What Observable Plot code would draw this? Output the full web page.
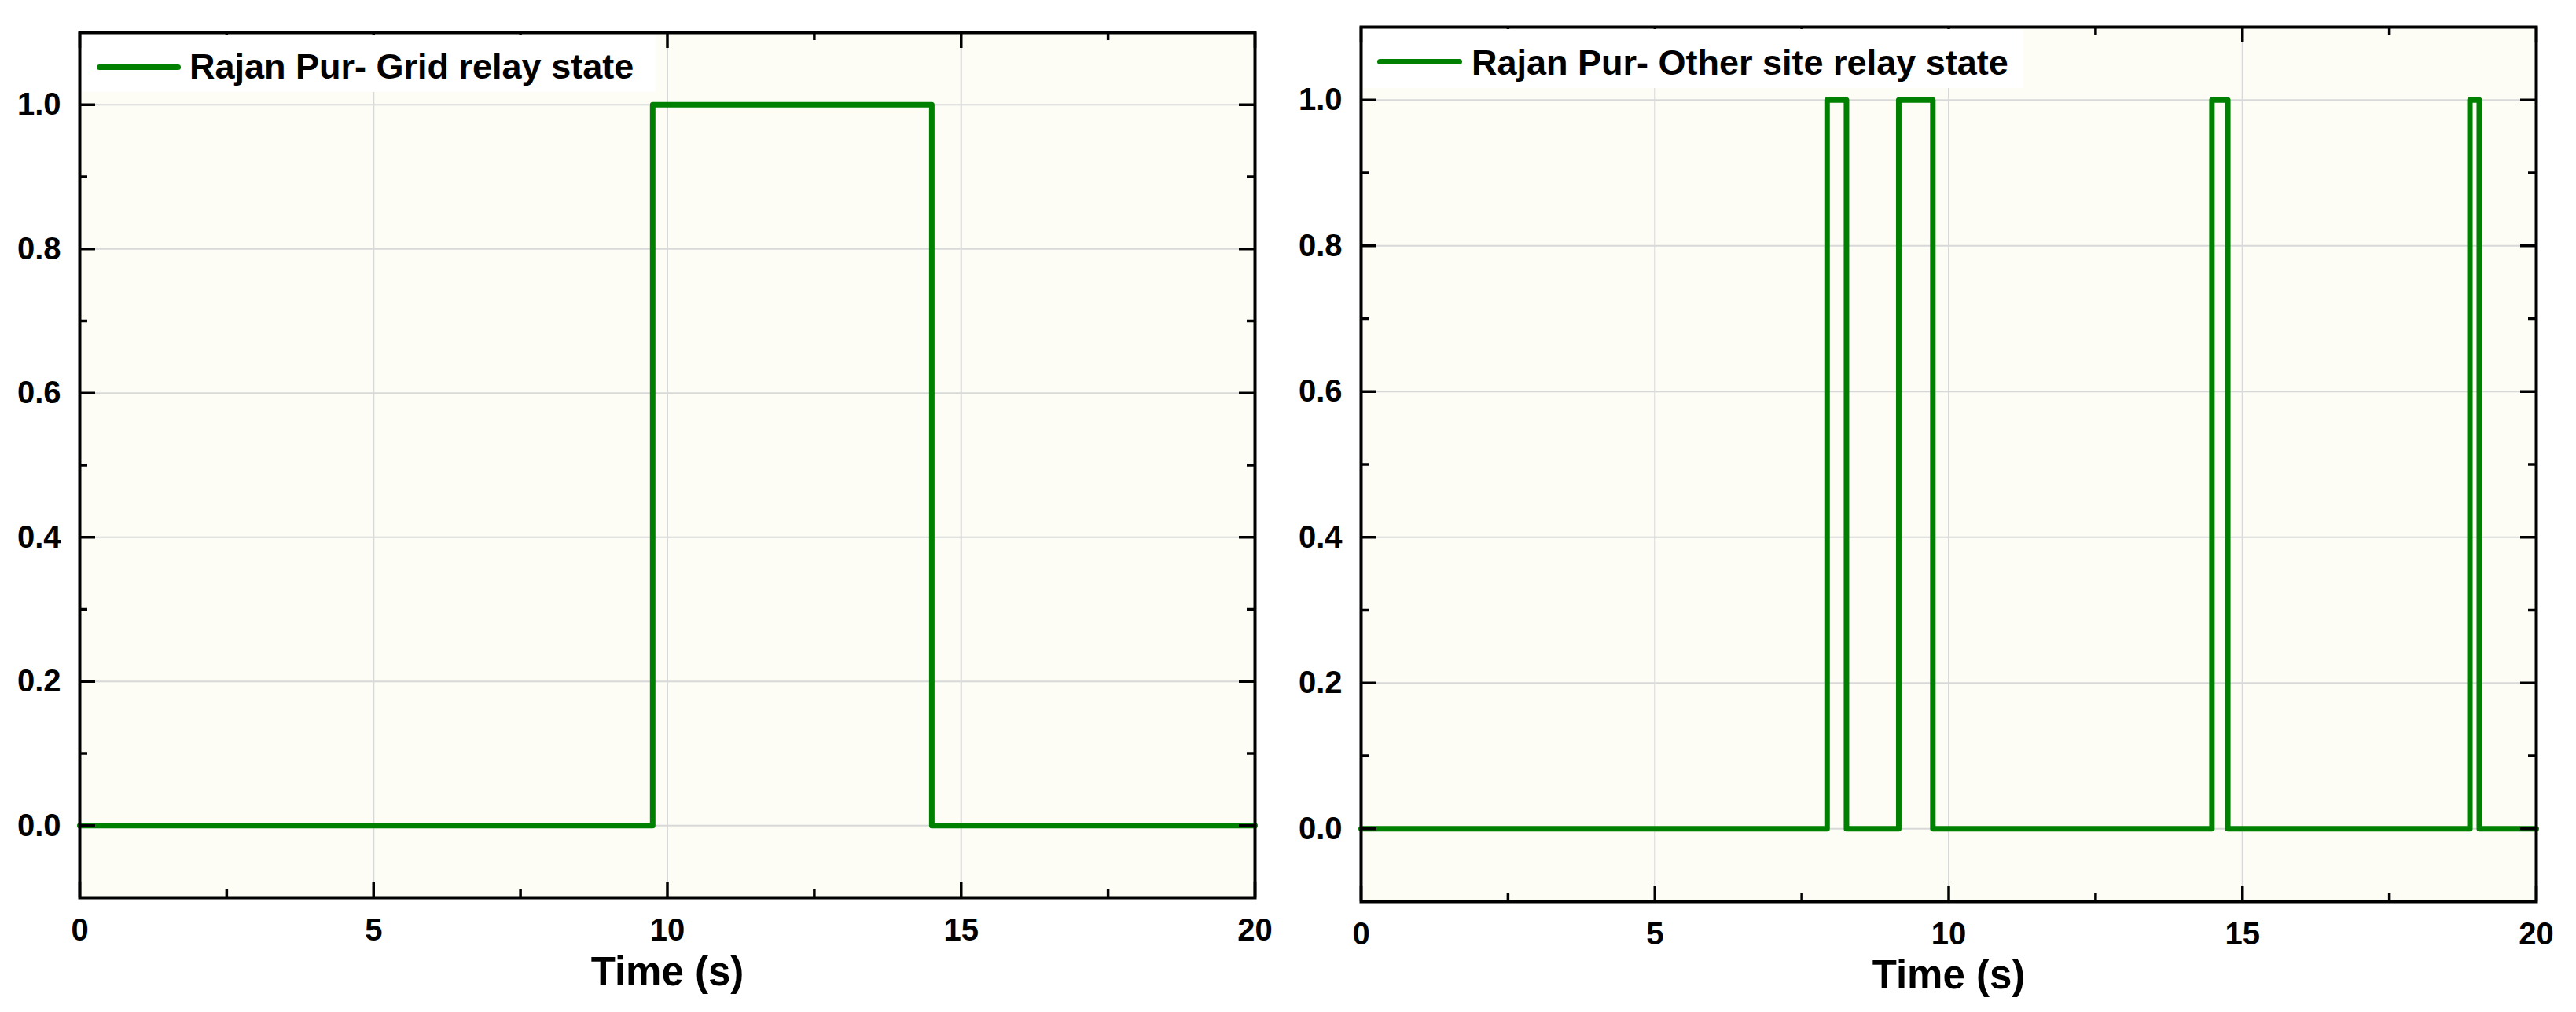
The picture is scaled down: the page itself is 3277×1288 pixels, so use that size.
<!DOCTYPE html>
<html><head><meta charset="utf-8">
<script src="https://cdn.jsdelivr.net/npm/d3@7"></script>
<script src="https://cdn.jsdelivr.net/npm/@observablehq/plot@0.6"></script>
<style>
body{margin:0;background:#fff;width:3277px;height:1288px;position:relative;overflow:hidden;font-family:"Liberation Sans",Arial,sans-serif;}
.panel{position:absolute;top:0;}
.panel svg{max-width:none;overflow:visible;}
.lbox{position:absolute;background:#ffffff;}
.swatch{position:absolute;height:7px;background:#008000;border-radius:3.5px;}
.ltext{position:absolute;font-weight:bold;font-size:45px;line-height:45px;color:#000;white-space:nowrap;}
</style></head><body>
<div id="left" class="panel" style="left:0;width:1600px"></div>
<div id="right" class="panel" style="left:1600px;width:1677px"></div>
<div class="lbox" style="left:104px;top:44px;width:730px;height:73px"></div>
<div class="swatch" style="left:123px;top:82px;width:107px"></div>
<div class="ltext" id="leg1" style="left:241px;top:62px"></div>
<div class="lbox" style="left:1734px;top:37px;width:840px;height:75px"></div>
<div class="swatch" style="left:1752px;top:75px;width:108px"></div>
<div class="ltext" id="leg2" style="left:1872px;top:57px"></div>
<script>
// Data
const gridTime  = [0, 9.75, 14.5, 20];
const gridState = [0, 1, 0, 0];
const otherTime  = [0, 7.93, 8.26, 9.15, 9.73, 14.48, 14.75, 18.87, 19.03, 20];
const otherState = [0, 1, 0, 1, 0, 1, 0, 1, 0, 0];
const seriesNames = ["Rajan Pur- Grid relay state", "Rajan Pur- Other site relay state"];
const xLabel = "Time (s)";
const xMajor = [0, 5, 10, 15, 20];
const xMinor = [2.5, 7.5, 12.5, 17.5];
const xGrid = [5, 10, 15];
const yMajor = [0, 0.2, 0.4, 0.6, 0.8, 1.0];
const yMinor = [0.1, 0.3, 0.5, 0.7, 0.9];

function panel({time, state, width, marginLeft, marginRight, marginTop, marginBottom, labelDy}) {
  const height = 1288;
  const innerH = height - marginTop - marginBottom;
  const innerW = width - marginLeft - marginRight;
  const data = time.map((t, i) => ({t, s: state[i]}));
  const tk = {stroke: "black", strokeWidth: 3.5};
  return Plot.plot({
    width, height, marginLeft, marginRight, marginTop, marginBottom,
    x: {domain: [0, 20]},
    y: {domain: [-0.1, 1.1]},
    style: {fontFamily: "Liberation Sans, Arial, sans-serif", background: "transparent", maxWidth: "none", overflow: "visible"},
    marks: [
      Plot.frame({fill: "#FDFDF5"}),
      Plot.gridX(xGrid, {stroke: "#d8d8d8", strokeOpacity: 1, strokeWidth: 2}),
      Plot.gridY(yMajor, {stroke: "#d8d8d8", strokeOpacity: 1, strokeWidth: 2}),
      Plot.line(data, {x: "t", y: "s", curve: "step-after", stroke: "#008000", strokeWidth: 7, strokeLinejoin: "round"}),
      Plot.ruleX(xMajor, {x: d => d, insetTop: innerH - 20, ...tk}),
      Plot.ruleX(xMajor, {x: d => d, insetBottom: innerH - 20, ...tk}),
      Plot.ruleX(xMinor, {x: d => d, insetTop: innerH - 10, ...tk}),
      Plot.ruleX(xMinor, {x: d => d, insetBottom: innerH - 10, ...tk}),
      Plot.ruleY(yMajor, {y: d => d, insetRight: innerW - 20, ...tk}),
      Plot.ruleY(yMajor, {y: d => d, insetLeft: innerW - 20, ...tk}),
      Plot.ruleY(yMinor, {y: d => d, insetRight: innerW - 10, ...tk}),
      Plot.ruleY(yMinor, {y: d => d, insetLeft: innerW - 10, ...tk}),
      Plot.frame({stroke: "black", strokeWidth: 4}),
      Plot.axisX(xMajor, {tickSize: 0, tickPadding: 26, tickFormat: d => String(d), fontSize: 40, fontWeight: "bold", label: null, fill: "black"}),
      Plot.axisY(yMajor, {tickSize: 0, tickPadding: 24, tickFormat: d3.format(".1f"), fontSize: 40, fontWeight: "bold", label: null, fill: "black"}),
      Plot.text([xLabel], {text: d => d, frameAnchor: "bottom", dy: labelDy, lineAnchor: "top", fontSize: 51, fontWeight: "bold", fill: "black"})
    ]
  });
}

document.getElementById("left").append(panel({
  time: gridTime, state: gridState, width: 1600,
  marginLeft: 101, marginRight: 4, marginTop: 41, marginBottom: 146, labelDy: 75
}));
document.getElementById("right").append(panel({
  time: otherTime, state: otherState, width: 1677,
  marginLeft: 131, marginRight: 51, marginTop: 34, marginBottom: 141, labelDy: 74
}));
document.getElementById("leg1").textContent = seriesNames[0];
document.getElementById("leg2").textContent = seriesNames[1];
</script>
</body></html>
